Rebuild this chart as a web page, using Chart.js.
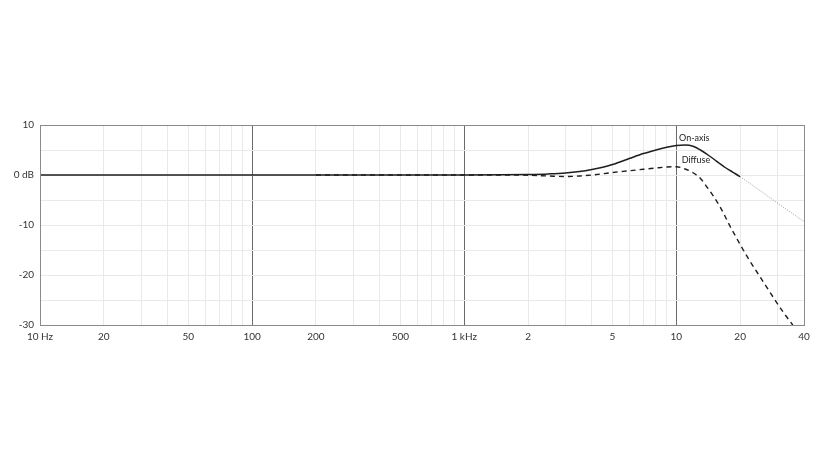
<!DOCTYPE html>
<html>
<head>
<meta charset="utf-8">
<script src="https://cdn.jsdelivr.net/npm/chart.js@4/dist/chart.umd.min.js"></script>
<style>
  html, body { margin: 0; padding: 0; background: #fff; }
  #wrap { width: 824px; height: 465px; position: relative; }
</style>
</head>
<body>
<div id="wrap"><canvas id="c"></canvas></div>
<script>
// Frequencies (Hz) for the on-axis response
const onAxisFreq = [10, 20, 50, 100, 200, 500, 1000, 1500, 2000, 2500, 3000, 3500, 4000, 4500, 5000, 6000, 7000, 8000, 9000, 10000, 11000, 12000, 13000, 14000, 15000, 16000, 17000, 18000, 19000, 20000, 25000, 30000, 35000, 40000];
const onAxisDb   = [0, 0, 0, 0, 0, 0, 0, 0.03, 0.1, 0.22, 0.4, 0.7, 1.1, 1.55, 2.1, 3.3, 4.3, 5.0, 5.55, 5.9, 6.0, 5.75, 5.0, 4.1, 3.2, 2.3, 1.5, 0.85, 0.25, -0.35, -3.2, -5.6, -7.6, -9.3];

// Frequencies (Hz) for the diffuse-field response
const diffuseFreq = [200, 500, 1000, 1500, 2000, 2500, 3000, 3500, 4000, 4500, 5000, 6000, 7000, 8000, 9000, 10000, 11000, 12000, 13000, 14000, 15000, 16000, 17000, 18000, 19000, 20000, 22000, 24000, 26000, 29000, 32000, 35400];
const diffuseDb   = [0, 0, 0, 0, -0.05, -0.2, -0.3, -0.2, 0.0, 0.25, 0.5, 0.85, 1.15, 1.4, 1.6, 1.65, 1.2, 0.45, -0.7, -2.5, -4.3, -6.2, -8.3, -10.4, -12.2, -13.9, -16.9, -19.4, -21.7, -24.8, -27.5, -30.0];

// Vertical grid positions and their labels
const xGridFreq = [10,20,30,40,50,60,70,80,90,100,200,300,400,500,600,700,800,900,1000,2000,3000,4000,5000,6000,7000,8000,9000,10000,20000,30000,40000];
const xTickFreq   = [10, 20, 50, 100, 200, 500, 1000, 2000, 5000, 10000, 20000, 40000];
const xTickLabels = ['10 Hz', '20', '50', '100', '200', '500', '1 kHz', '2', '5', '10', '20', '40'];
const majorFreq = [100, 1000, 10000];

const yTickVals   = [10, 0, -10, -20, -30];
const yTickLabels = ['10', '0 dB', '-10', '-20', '-30'];

const seriesNames = ['On-axis', 'Diffuse'];

const FONT = 'Lato, "Open Sans", sans-serif';

const frame = {
  id: 'frame',
  afterDraw(chart) {
    const a = chart.chartArea, ctx = chart.ctx;
    ctx.save();
    ctx.strokeStyle = '#8a8a8a';
    ctx.lineWidth = 1;
    ctx.strokeRect(Math.round(a.left) + 0.5, Math.round(a.top) + 0.5, Math.round(a.right - a.left), Math.round(a.bottom - a.top));
    ctx.restore();
  },
  afterDatasetsDraw(chart) {
    const x = chart.scales.x, y = chart.scales.y, ctx = chart.ctx;
    ctx.save();
    ctx.fillStyle = '#222';
    ctx.font = '9px ' + FONT;
    ctx.textBaseline = 'middle';
    ctx.textAlign = 'left';
    ctx.fillText(seriesNames[0], x.getPixelForValue(10300), y.getPixelForValue(7.4));
    ctx.fillText(seriesNames[1], x.getPixelForValue(10600), y.getPixelForValue(3.0));
    ctx.restore();
  }
};

new Chart(document.getElementById('c'), {
  type: 'line',
  data: {
    datasets: [
      {
        label: seriesNames[0],
        data: onAxisFreq.map((f, i) => ({ x: f, y: onAxisDb[i] })),
        borderColor: '#1e1e1e',
        borderWidth: 1.5,
        pointRadius: 0,
        fill: false,
        cubicInterpolationMode: 'monotone',
        segment: {
          borderColor: c => c.p0.parsed.x >= 19999 ? '#9a9a9a' : undefined,
          borderDash: c => c.p0.parsed.x >= 19999 ? [1, 1.5] : undefined,
          borderWidth: c => c.p0.parsed.x >= 19999 ? 1 : undefined
        }
      },
      {
        label: seriesNames[1],
        data: diffuseFreq.map((f, i) => ({ x: f, y: diffuseDb[i] })),
        borderColor: '#1e1e1e',
        borderWidth: 1.4,
        borderDash: [5, 4],
        pointRadius: 0,
        fill: false,
        cubicInterpolationMode: 'monotone'
      }
    ]
  },
  options: {
    responsive: true,
    maintainAspectRatio: false,
    animation: false,
    events: [],
    layout: { padding: { top: 125, right: 20, bottom: 115, left: 0 } },
    plugins: { legend: { display: false }, tooltip: { enabled: false } },
    scales: {
      x: {
        type: 'logarithmic',
        min: 10,
        max: 40000,
        afterBuildTicks: s => { s.ticks = xGridFreq.map(v => ({ value: v })); },
        afterFit: s => { s.height = 25; },
        border: { display: false },
        grid: {
          drawTicks: false,
          lineWidth: 1,
          color: c => majorFreq.includes(c.tick && c.tick.value) ? '#6a6a6a' : '#e9e9e9'
        },
        ticks: {
          autoSkip: false,
          maxRotation: 0,
          minRotation: 0,
          padding: 6,
          color: '#333',
          font: { family: FONT, size: 10 },
          callback: v => { const i = xTickFreq.indexOf(v); return i >= 0 ? xTickLabels[i] : ''; }
        }
      },
      y: {
        min: -30,
        max: 10,
        afterFit: s => { s.width = 40; },
        border: { display: false },
        grid: { drawTicks: false, color: '#e9e9e9', lineWidth: 1 },
        ticks: {
          stepSize: 5,
          padding: 6,
          color: '#333',
          font: { family: FONT, size: 10 },
          callback: v => { const i = yTickVals.indexOf(v); return i >= 0 ? yTickLabels[i] : ''; }
        }
      }
    }
  },
  plugins: [frame]
});
</script>
</body>
</html>
